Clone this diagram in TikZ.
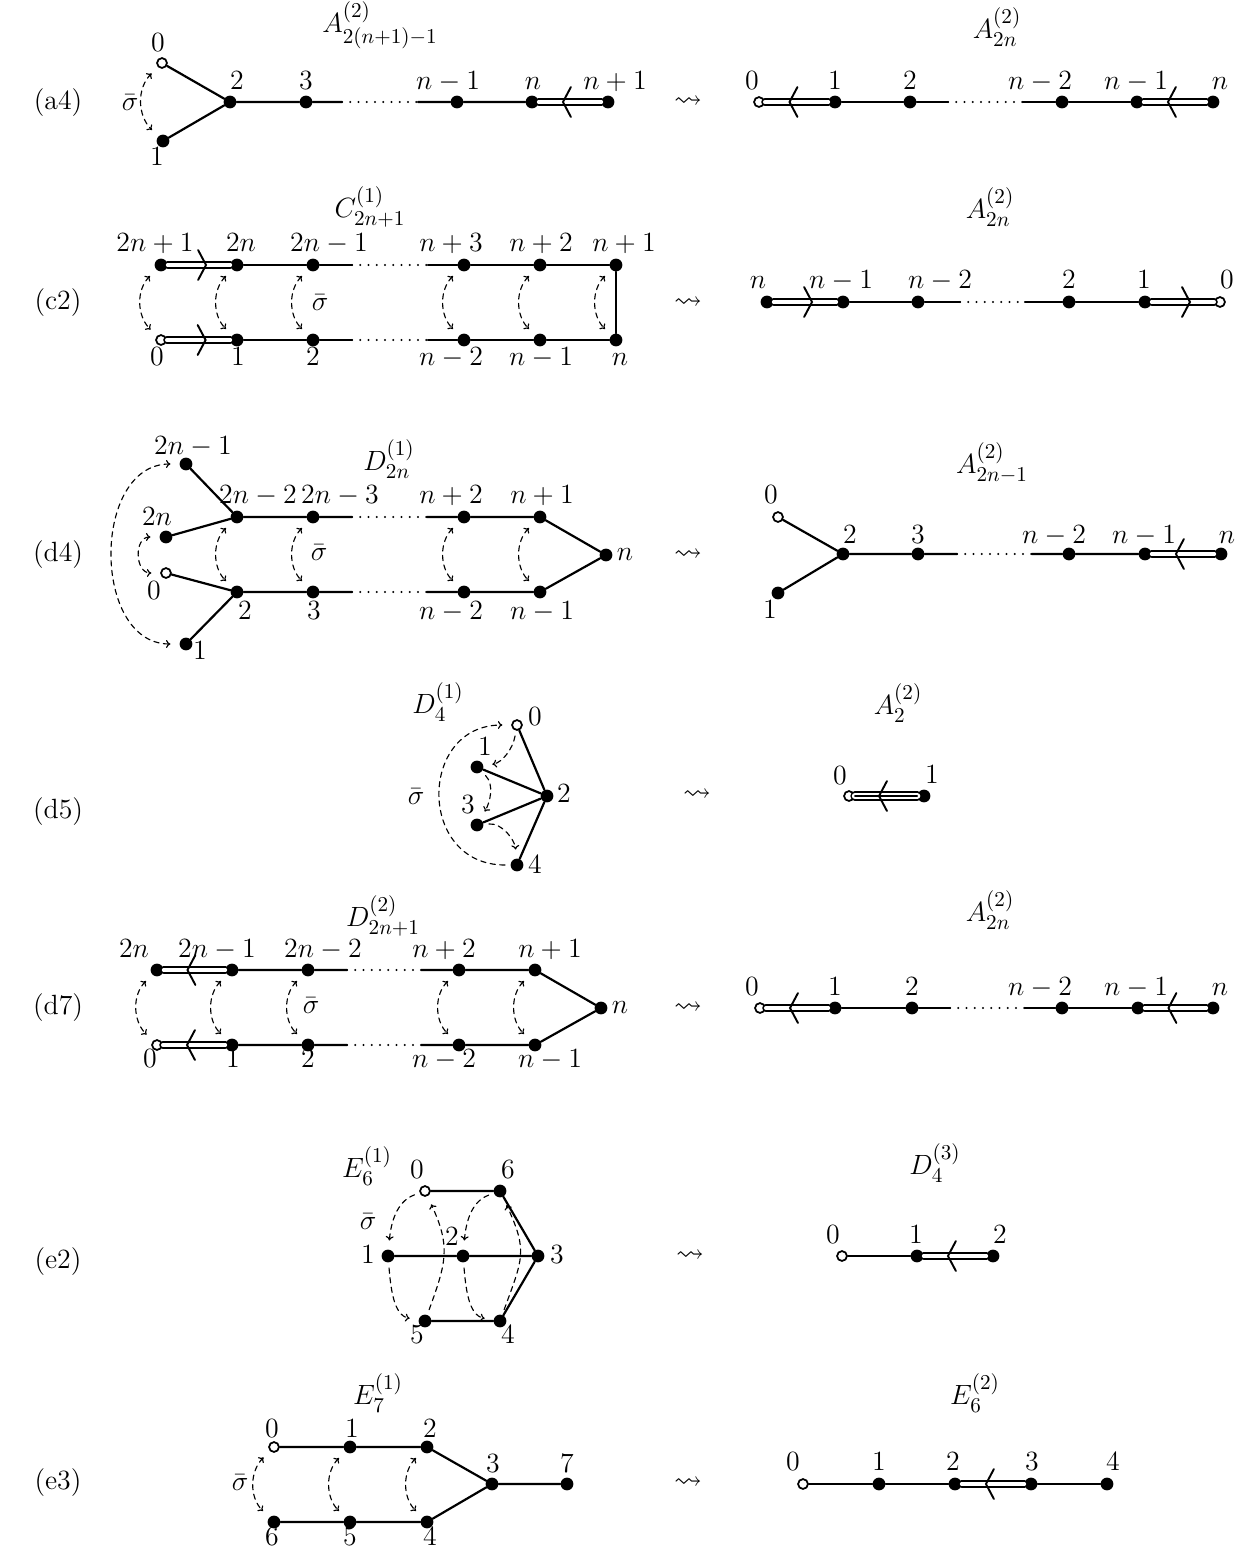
\documentclass[tikz,border=0pt]{standalone}
\usepackage{amssymb}
\usetikzlibrary{arrows.meta,decorations.markings}
\DeclareMathSizes{14.4}{14.4}{10.95}{8}

\tikzset{
  every node/.append style={scale=1.1},
  vtx/.style={circle, fill=black, inner sep=0pt, minimum size=6.6pt},
  ovtx/.style={circle, draw=black, fill=white, line width=1pt, inner sep=0pt, minimum size=5.1pt},
  lbl/.style={inner sep=0pt, text height=1.5ex, text depth=0.25ex},
  bond/.style={line width=1.25pt},
  dbond/.style={double, line width=1pt, double distance=2.2pt},
  tbond/.style={double, line width=0.85pt, double distance=3.5pt},
  dotseg/.style={line width=1.3pt, line cap=round, dash pattern=on 0pt off 4.7pt},
  chev/.style={postaction={decorate}, decoration={markings,
    mark=at position 0.5 with {\draw[line width=1.1pt, line join=miter] (-0.5pt,8.5pt) -- (4pt,0pt) -- (-0.5pt,-8.5pt);}}},
  flip/.style={line width=0.65pt, dash pattern=on 3pt off 2.5pt,
    -{Computer Modern Rightarrow[length=2.5pt,width=4.5pt]}, shorten >=5pt, shorten <=3pt},
  flipb/.style={flip, {Computer Modern Rightarrow[length=2.5pt,width=4.5pt]}-{Computer Modern Rightarrow[length=2.5pt,width=4.5pt]}, shorten <=5pt},
  colarc/.style={out=225, in=135, looseness=1.1},
}

\begin{document}
\begin{tikzpicture}[x=0.02cm, y=-0.02cm, line cap=round, font=\fontsize{14.4}{17}\selectfont]
  \useasboundingbox (0,0) rectangle (1250,1553);

  % ---------- (a4) ----------
  \node (ra4) at (58,103) {(a4)};
  \node (ta4l) at (380,25) {$A^{(2)}_{2(n+1)-1}$};
  \node (ta4r) at (997,27) {$A^{(2)}_{2n}$};
  \node (sqa4) at (688,102) {$\rightsquigarrow$};
  \node[ovtx] (a0) at (162,63) {};
  \node[vtx] (a1) at (163,141) {};
  \foreach \nm/\x in {a2/230, a3/306, ann1/457, an/532, anp1/608}
    \node[vtx] (\nm) at (\x,102) {};
  \coordinate (ad1) at (342,102);
  \coordinate (ad2) at (418,102);
  \draw[bond] (a0) -- (a2) (a1) -- (a2) (a2) -- (a3) -- (ad1) (ad2) -- (ann1) -- (an);
  \draw[dotseg] (ad1) -- (ad2);
  \draw[dbond] (an) -- (anp1);
  \path[chev] (anp1) -- (an);
  \draw[flipb] (a0) to[colarc] (a1);
  \node (sga4) at (130,103) {$\bar\sigma$};
  \foreach \nm/\x/\y/\txt in {a0/158/46/0, a1/157/160/1, a2/237/84/2, a3/306/84/3,
      ann1/448/84/n-1, an/533/84/n, anp1/615/84/n+1}
    \node[lbl] (l\nm) at (\x,\y) {$\txt$};

  \node[ovtx] (b0) at (759,102) {};
  \foreach \nm/\x in {b1/835, b2/910, bn2/1062, bn1/1137, bn/1213}
    \node[vtx] (\nm) at (\x,102) {};
  \coordinate (bd1) at (948,102);
  \coordinate (bd2) at (1023,102);
  \draw[bond] (b1) -- (b2) -- (bd1) (bd2) -- (bn2) -- (bn1);
  \draw[dotseg] (bd1) -- (bd2);
  \draw[dbond] (b0) -- (b1) (bn1) -- (bn);
  \path[chev] (b1) -- (b0);
  \path[chev] (bn) -- (bn1);
  \foreach \nm/\x/\y/\txt in {b0/752/84/0, b1/835/84/1, b2/910/84/2,
      bn2/1040/84/n-2, bn1/1136/84/n-1, bn/1220/84/n}
    \node[lbl] (l\nm) at (\x,\y) {$\txt$};

  % ---------- (c2) ----------
  \node (rc2) at (58,303) {(c2)};
  \node (tc2l) at (370,207) {$C^{(1)}_{2n+1}$};
  \node (tc2r) at (990,207) {$A^{(2)}_{2n}$};
  \node (sqc2) at (688,303) {$\rightsquigarrow$};
  \foreach \nm/\x in {c2n1/161, c2n/237, c2nm1/313, cnp3/464, cnp2/540, cnp1/616}
    \node[vtx] (\nm) at (\x,265) {};
  \node[ovtx] (c0) at (161,340) {};
  \foreach \nm/\x in {c1/237, c2/313, cnm2/464, cnm1/540, cn/616}
    \node[vtx] (\nm) at (\x,340) {};
  \coordinate (cd1) at (352,265);
  \coordinate (cd2) at (428,265);
  \coordinate (cd3) at (352,340);
  \coordinate (cd4) at (428,340);
  \draw[bond] (c2n) -- (c2nm1) -- (cd1) (cd2) -- (cnp3) -- (cnp2) -- (cnp1) -- (cn)
    -- (cnm1) -- (cnm2) -- (cd4) (cd3) -- (c2) -- (c1);
  \draw[dotseg] (cd1) -- (cd2) (cd3) -- (cd4);
  \draw[dbond] (c2n1) -- (c2n) (c0) -- (c1);
  \path[chev] (c2n1) -- (c2n);
  \path[chev] (c0) -- (c1);
  \foreach \u/\v in {c2n1/c0, c2n/c1, c2nm1/c2, cnp3/cnm2, cnp2/cnm1, cnp1/cn}
    \draw[flipb] (\u) to[colarc] (\v);
  \node (sgc2) at (320,303) {$\bar\sigma$};
  \foreach \nm/\x/\y/\txt in {c2n1/155/246/2n+1, c2n/241/246/2n, c2nm1/329/246/2n-1,
      cnp3/451/246/n+3, cnp2/541/246/n+2, cnp1/624/246/n+1,
      c0/157/360/0, c1/238/360/1, c2/313/360/2, cnm2/451/360/n-2, cnm1/541/360/n-1, cn/620/360/n}
    \node[lbl] (l\nm) at (\x,\y) {$\txt$};

  \foreach \nm/\x in {crn/767, crn1/843, crn2/918, cr2/1069, cr1/1145}
    \node[vtx] (\nm) at (\x,302) {};
  \node[ovtx] (cr0) at (1220,302) {};
  \coordinate (crd1) at (960,302);
  \coordinate (crd2) at (1025,302);
  \draw[bond] (crn1) -- (crn2) -- (crd1) (crd2) -- (cr2) -- (cr1);
  \draw[dotseg] (crd1) -- (crd2);
  \draw[dbond] (crn) -- (crn1) (cr1) -- (cr0);
  \path[chev] (crn) -- (crn1);
  \path[chev] (cr1) -- (cr0);
  \foreach \nm/\x/\y/\txt in {crn/758/283/n, crn1/841/283/n-1, crn2/940/283/n-2,
      cr2/1069/283/2, cr1/1144/283/1, cr0/1227/283/0}
    \node[lbl] (l\nm) at (\x,\y) {$\txt$};

  % ---------- (d4) ----------
  \node (rd4) at (58,555) {(d4)};
  \node (td4l) at (389,459) {$D^{(1)}_{2n}$};
  \node (td4r) at (992,463) {$A^{(2)}_{2n-1}$};
  \node (sqd4) at (688,555) {$\rightsquigarrow$};
  \node[vtx] (d2nm1) at (186,464) {};
  \node[vtx] (d2n) at (166,537) {};
  \node[ovtx] (d0) at (166,573) {};
  \node[vtx] (d1) at (186,644) {};
  \node[vtx] (dn) at (606,555) {};
  \foreach \nm/\x in {d2nm2/237, d2nm3/313, dnp2/464, dnp1/540}
    \node[vtx] (\nm) at (\x,517) {};
  \foreach \nm/\x in {d2/237, d3/313, dnm2/464, dnm1/540}
    \node[vtx] (\nm) at (\x,592) {};
  \coordinate (dd1) at (352,517);
  \coordinate (dd2) at (427,517);
  \coordinate (dd3) at (352,592);
  \coordinate (dd4) at (427,592);
  \draw[bond] (d2nm1) -- (d2nm2) (d2n) -- (d2nm2) (d0) -- (d2) (d1) -- (d2);
  \draw[bond] (d2nm2) -- (d2nm3) -- (dd1) (dd2) -- (dnp2) -- (dnp1) -- (dn)
    -- (dnm1) -- (dnm2) -- (dd4) (dd3) -- (d3) -- (d2);
  \draw[dotseg] (dd1) -- (dd2) (dd3) -- (dd4);
  \draw[flipb] (d2nm1) to[out=180, in=180, looseness=1.25] (d1);
  \draw[flipb] (d2n) to[out=180, in=180, looseness=1.8] (d0);
  \foreach \u/\v in {d2nm2/d2, d2nm3/d3, dnp2/dnm2, dnp1/dnm1}
    \draw[flipb] (\u) to[colarc] (\v);
  \node (sgd4) at (319,553) {$\bar\sigma$};
  \foreach \nm/\x/\y/\txt in {d2nm1/193/449/2n-1, d2n/157/520/2n, d0/154/594/0, d1/200/654/1,
      d2nm2/258/498/2n-2, d2nm3/340/498/2n-3, dnp2/451/498/n+2, dnp1/542/498/n+1,
      dn/625/555/n, d2/245/614/2, d3/314/614/3, dnm2/451/614/n-2, dnm1/542/614/n-1}
    \node[lbl] (l\nm) at (\x,\y) {$\txt$};

  \node[ovtx] (dr0) at (778,517) {};
  \node[vtx] (dr1) at (778,593) {};
  \foreach \nm/\x in {dr2/843, dr3/918, drn2/1069, drn1/1145, drn/1221}
    \node[vtx] (\nm) at (\x,554) {};
  \coordinate (drd1) at (957,554);
  \coordinate (drd2) at (1032,554);
  \draw[bond] (dr0) -- (dr2) (dr1) -- (dr2) (dr2) -- (dr3) -- (drd1) (drd2) -- (drn2) -- (drn1);
  \draw[dotseg] (drd1) -- (drd2);
  \draw[dbond] (drn1) -- (drn);
  \path[chev] (drn) -- (drn1);
  \foreach \nm/\x/\y/\txt in {dr0/771/498/0, dr1/770/613/1, dr2/850/538/2, dr3/918/538/3,
      drn2/1054/538/n-2, drn1/1144/538/n-1, drn/1227/538/n}
    \node[lbl] (l\nm) at (\x,\y) {$\txt$};

  % ---------- (d5) ----------
  \node (rd5) at (58,812) {(d5)};
  \node (td5l) at (438,702) {$D^{(1)}_{4}$};
  \node (td5r) at (898,703) {$A^{(2)}_{2}$};
  \node (sqd5) at (697,795) {$\rightsquigarrow$};
  \node[ovtx] (p0) at (517,725) {};
  \node[vtx] (p1) at (477,767) {};
  \node[vtx] (p2) at (547,796) {};
  \node[vtx] (p3) at (477,825) {};
  \node[vtx] (p4) at (517,865) {};
  \draw[bond] (p0) -- (p2) (p1) -- (p2) (p3) -- (p2) (p4) -- (p2);
  \draw[flip] (p4) to[out=180, in=180, looseness=1.7] (p0);
  \draw[flip] (p0) to[out=-100, in=10] (p1);
  \draw[flip] (p1) to[out=-45, in=60] (p3);
  \draw[flip] (p3) to[out=5, in=95] (p4);
  \node (sgd5) at (416,797) {$\bar\sigma$};
  \foreach \nm/\x/\y/\txt in {p0/535/720/0, p1/485/750/1, p2/564/797/2, p3/468/808/3, p4/535/868/4}
    \node[lbl] (l\nm) at (\x,\y) {$\txt$};

  \node[ovtx] (pr0) at (849,796) {};
  \node[vtx] (pr1) at (924,796) {};
  \draw[tbond] (pr0) -- (pr1);
  \draw[line width=0.85pt] (pr0) -- (pr1);
  \path[chev] (pr1) -- (pr0);
  \foreach \nm/\x/\y/\txt in {pr0/840/779/0, pr1/932/778/1}
    \node[lbl] (l\nm) at (\x,\y) {$\txt$};

  % ---------- (d7) ----------
  \node (rd7) at (58,1008) {(d7)};
  \node (td7l) at (383,916) {$D^{(2)}_{2n+1}$};
  \node (td7r) at (990,910) {$A^{(2)}_{2n}$};
  \node (sqd7) at (688,1008) {$\rightsquigarrow$};
  \foreach \nm/\x in {q2n/157, q2nm1/232, q2nm2/308, qnp2/459, qnp1/535}
    \node[vtx] (\nm) at (\x,970) {};
  \node[vtx] (qn) at (601,1008) {};
  \node[ovtx] (q0) at (157,1045) {};
  \foreach \nm/\x in {q1/232, q2/308, qnm2/459, qnm1/535}
    \node[vtx] (\nm) at (\x,1045) {};
  \coordinate (qd1) at (347,970);
  \coordinate (qd2) at (421,970);
  \coordinate (qd3) at (347,1045);
  \coordinate (qd4) at (421,1045);
  \draw[bond] (q2nm1) -- (q2nm2) -- (qd1) (qd2) -- (qnp2) -- (qnp1) -- (qn)
    -- (qnm1) -- (qnm2) -- (qd4) (qd3) -- (q2) -- (q1);
  \draw[dotseg] (qd1) -- (qd2) (qd3) -- (qd4);
  \draw[dbond] (q2n) -- (q2nm1) (q0) -- (q1);
  \path[chev] (q2nm1) -- (q2n);
  \path[chev] (q1) -- (q0);
  \foreach \u/\v in {q2n/q0, q2nm1/q1, q2nm2/q2, qnp2/qnm2, qnp1/qnm1}
    \draw[flipb] (\u) to[colarc] (\v);
  \node (sgd7) at (311,1006) {$\bar\sigma$};
  \foreach \nm/\x/\y/\txt in {q2n/134/952/2n, q2nm1/217/952/2n-1, q2nm2/323/952/2n-2,
      qnp2/444/952/n+2, qnp1/550/952/n+1, qn/620/1008/n,
      q0/150/1062/0, q1/233/1062/1, q2/308/1062/2, qnm2/444/1062/n-2, qnm1/550/1062/n-1}
    \node[lbl] (l\nm) at (\x,\y) {$\txt$};

  \node[ovtx] (qr0) at (760,1008) {};
  \foreach \nm/\x in {qr1/835, qr2/912, qrn2/1062, qrn1/1138, qrn/1213}
    \node[vtx] (\nm) at (\x,1008) {};
  \coordinate (qrd1) at (950,1008);
  \coordinate (qrd2) at (1025,1008);
  \draw[bond] (qr1) -- (qr2) -- (qrd1) (qrd2) -- (qrn2) -- (qrn1);
  \draw[dotseg] (qrd1) -- (qrd2);
  \draw[dbond] (qr0) -- (qr1) (qrn1) -- (qrn);
  \path[chev] (qr1) -- (qr0);
  \path[chev] (qrn) -- (qrn1);
  \foreach \nm/\x/\y/\txt in {qr0/752/990/0, qr1/835/990/1, qr2/912/990/2,
      qrn2/1040/990/n-2, qrn1/1136/990/n-1, qrn/1220/990/n}
    \node[lbl] (l\nm) at (\x,\y) {$\txt$};

  % ---------- (e2) ----------
  \node (re2) at (58,1262) {(e2)};
  \node (te2l) at (367,1166) {$E^{(1)}_{6}$};
  \node (te2r) at (935,1163) {$D^{(3)}_{4}$};
  \node (sqe2) at (690,1256) {$\rightsquigarrow$};
  \node[ovtx] (s0) at (425,1191) {};
  \node[vtx] (s6) at (500,1191) {};
  \node[vtx] (s1) at (388,1256) {};
  \node[vtx] (s2) at (463,1256) {};
  \node[vtx] (s3) at (538,1256) {};
  \node[vtx] (s5) at (425,1321) {};
  \node[vtx] (s4) at (500,1321) {};
  \draw[bond] (s0) -- (s6) -- (s3) -- (s4) -- (s5) (s1) -- (s2) -- (s3);
  \draw[flip] (s0) to[out=200, in=85] (s1);
  \draw[flip] (s6) to[out=200, in=85] (s2);
  \draw[flip] (s1) to[out=-85, in=170] (s5);
  \draw[flip] (s2) to[out=-85, in=170] (s4);
  \draw[flip] (s5) to[out=70, in=-65, looseness=1.2] (s0);
  \draw[flip] (s4) to[out=70, in=-65, looseness=1.3] (s6);
  \node (sge2) at (368,1222) {$\bar\sigma$};
  \foreach \nm/\x/\y/\txt in {s0/417/1173/0, s6/508/1173/6, s1/368/1258/1, s2/452/1240/2,
      s3/557/1258/3, s5/417/1338/5, s4/508/1338/4}
    \node[lbl] (l\nm) at (\x,\y) {$\txt$};

  \node[ovtx] (sr0) at (842,1256) {};
  \node[vtx] (sr1) at (917,1256) {};
  \node[vtx] (sr2) at (993,1256) {};
  \draw[bond] (sr0) -- (sr1);
  \draw[dbond] (sr1) -- (sr2);
  \path[chev] (sr2) -- (sr1);
  \foreach \nm/\x/\y/\txt in {sr0/833/1238/0, sr1/916/1238/1, sr2/1000/1238/2}
    \node[lbl] (l\nm) at (\x,\y) {$\txt$};

  % ---------- (e3) ----------
  \node (re3) at (58,1483) {(e3)};
  \node (te3l) at (378,1393) {$E^{(1)}_{7}$};
  \node (te3r) at (975,1393) {$E^{(2)}_{6}$};
  \node (sqe3) at (688,1483) {$\rightsquigarrow$};
  \node[ovtx] (t0) at (274,1447) {};
  \foreach \nm/\x in {t1/350, t2/427}
    \node[vtx] (\nm) at (\x,1447) {};
  \node[vtx] (t3) at (492,1484) {};
  \node[vtx] (t7) at (567,1484) {};
  \foreach \nm/\x in {t6/274, t5/350, t4/427}
    \node[vtx] (\nm) at (\x,1522) {};
  \draw[bond] (t0) -- (t1) -- (t2) -- (t3) -- (t7) (t6) -- (t5) -- (t4) -- (t3);
  \foreach \u/\v in {t0/t6, t1/t5, t2/t4}
    \draw[flipb] (\u) to[colarc] (\v);
  \node (sge3) at (240,1483) {$\bar\sigma$};
  \foreach \nm/\x/\y/\txt in {t0/272/1432/0, t1/352/1432/1, t2/430/1432/2, t3/493/1467/3,
      t7/567/1467/7, t6/272/1540/6, t5/350/1540/5, t4/430/1540/4}
    \node[lbl] (l\nm) at (\x,\y) {$\txt$};

  \node[ovtx] (tr0) at (803,1484) {};
  \foreach \nm/\x in {tr1/879, tr2/955, tr3/1031, tr4/1107}
    \node[vtx] (\nm) at (\x,1484) {};
  \draw[bond] (tr0) -- (tr1) -- (tr2) (tr3) -- (tr4);
  \draw[dbond] (tr2) -- (tr3);
  \path[chev] (tr3) -- (tr2);
  \foreach \nm/\x/\y/\txt in {tr0/793/1465/0, tr1/879/1465/1, tr2/953/1465/2,
      tr3/1032/1465/3, tr4/1113/1465/4}
    \node[lbl] (l\nm) at (\x,\y) {$\txt$};
\end{tikzpicture}
\end{document}
